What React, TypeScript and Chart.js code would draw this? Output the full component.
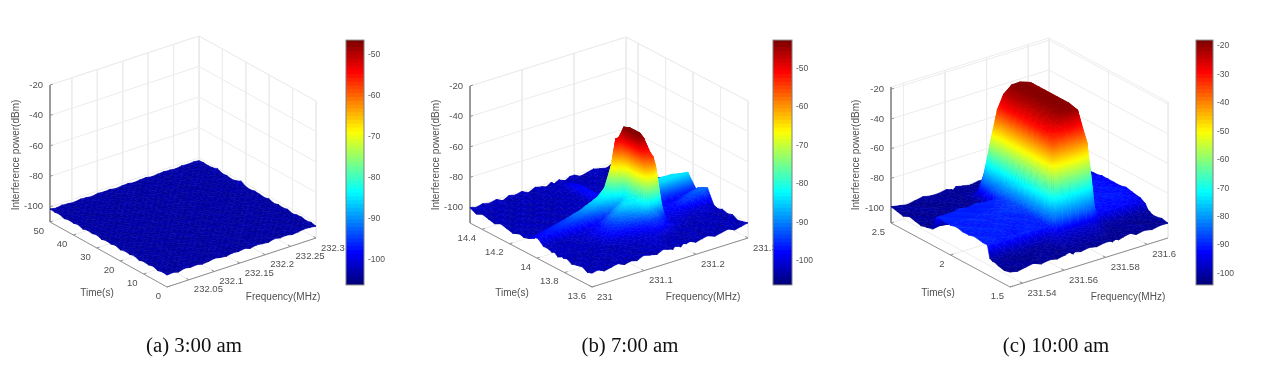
import React, { useEffect, useRef } from "react";
import { Chart, registerables } from "chart.js";

Chart.register(...registerables);

// ---------- tick labels ----------
const powerTicks = [-20, -40, -60, -80, -100];
const freqTicksA = [232.05, 232.1, 232.15, 232.2, 232.25, 232.3];
const timeTicksA = [0, 10, 20, 30, 40, 50];
const barTicksA = [-50, -60, -70, -80, -90, -100];
const freqTicksB = [231, 231.1, 231.2, 231.3];
const timeTicksB = [13.6, 13.8, 14, 14.2, 14.4];
const barTicksB = [-50, -60, -70, -80, -90, -100];
const freqTicksC = [231.54, 231.56, 231.58, 231.6];
const timeTicksC = [1.5, 2, 2.5];
const barTicksC = [-20, -30, -40, -50, -60, -70, -80, -90, -100];

// ---------- panel (a) 3:00 am ----------
const freqsA = [232.007,232.019,232.03,232.042,232.054,232.066,232.077,232.089,232.101,232.113,232.124,232.136,232.148,232.16,232.171,232.183,232.195,232.207,232.218,232.23,232.242,232.254,232.265,232.277,232.289,232.3];
const timesA = [0,2,4,6,8,10,12,14,16,18,20,22,24,26,28,30,32,34,36,38,40,42,44,46,48,50];
const powerA = [
[-102.2,-101.8,-102.6,-101.5,-102.2,-101.8,-102.6,-102.2,-101.5,-102.2,-102.6,-101.8,-102.2,-101.5,-102.6,-101.8,-102.2,-102.6,-101.5,-102.2,-101.8,-102.6,-102.2,-101.5,-101.8,-102.2],
[-101.8,-102.6,-102.2,-101.8,-101.5,-102.6,-102.2,-101.8,-102.6,-101.5,-102.2,-101.8,-102.6,-102.2,-101.8,-101.5,-102.6,-102.2,-101.8,-102.6,-102.2,-101.5,-101.8,-102.6,-102.2,-101.5],
[-102.6,-101.5,-102.2,-102.6,-101.8,-102.2,-101.5,-102.6,-101.8,-102.2,-101.8,-102.6,-101.5,-102.2,-102.6,-102.2,-101.8,-101.5,-102.6,-101.8,-102.2,-102.6,-101.5,-102.2,-101.8,-102.2],
[-101.5,-102.2,-101.8,-102.6,-102.2,-101.5,-102.2,-101.8,-102.6,-102.2,-101.5,-102.2,-101.8,-102.6,-101.5,-102.2,-102.6,-101.8,-102.2,-101.5,-102.6,-101.8,-102.2,-101.8,-102.6,-101.5],
[-102.2,-102.6,-101.5,-102.2,-101.8,-102.6,-101.8,-102.2,-101.5,-102.6,-102.2,-101.8,-102.6,-101.5,-102.2,-101.8,-101.5,-102.6,-102.2,-101.8,-101.5,-102.2,-102.6,-101.5,-102.2,-101.8],
[-101.8,-101.5,-102.6,-101.8,-102.2,-101.5,-102.6,-101.5,-102.2,-101.8,-102.6,-101.5,-102.2,-101.8,-102.6,-102.2,-101.8,-102.2,-101.5,-102.6,-102.2,-101.8,-101.5,-102.6,-101.8,-102.6],
[-102.6,-102.2,-101.8,-101.5,-102.6,-102.2,-101.8,-102.6,-101.8,-101.5,-102.2,-102.6,-101.8,-102.2,-101.5,-102.6,-102.2,-101.5,-101.8,-102.2,-102.6,-101.5,-102.2,-101.8,-102.6,-101.5],
[-101.5,-101.8,-102.2,-102.6,-101.5,-101.8,-102.6,-102.2,-101.5,-102.6,-101.8,-102.2,-101.5,-102.6,-102.2,-101.5,-101.8,-102.6,-102.2,-101.5,-101.8,-102.6,-101.8,-102.2,-101.5,-102.2],
[-102.2,-102.6,-101.5,-101.8,-102.6,-102.2,-101.5,-101.8,-102.6,-102.2,-101.5,-102.6,-102.2,-101.8,-101.5,-102.6,-102.2,-101.8,-102.6,-102.2,-101.5,-101.8,-102.6,-101.5,-102.2,-101.8],
[-101.8,-101.5,-102.6,-102.2,-101.8,-101.5,-102.2,-102.6,-101.8,-101.5,-102.6,-101.8,-102.2,-101.5,-102.6,-101.8,-101.5,-102.2,-101.8,-102.6,-102.2,-101.5,-102.2,-102.6,-101.8,-102.6],
[-102.6,-101.8,-102.2,-101.5,-102.2,-102.6,-101.8,-101.5,-102.2,-102.6,-101.8,-101.5,-102.6,-102.2,-101.8,-102.2,-102.6,-101.5,-102.2,-101.8,-102.6,-102.2,-101.5,-101.8,-102.6,-101.5],
[-101.5,-102.2,-101.8,-102.6,-101.5,-101.8,-102.2,-102.6,-101.5,-101.8,-102.2,-102.6,-101.5,-101.8,-102.2,-102.6,-101.5,-102.2,-102.6,-101.8,-101.5,-102.6,-101.8,-102.2,-101.5,-102.2],
[-102.2,-101.5,-102.6,-102.2,-101.8,-102.6,-101.5,-102.2,-101.8,-102.6,-101.5,-102.2,-101.8,-102.6,-101.5,-102.2,-101.8,-102.6,-101.5,-102.2,-101.8,-102.2,-102.6,-101.5,-102.2,-101.8],
[-101.8,-102.6,-101.5,-101.8,-102.6,-101.5,-102.2,-101.8,-102.6,-101.5,-102.2,-101.8,-102.6,-102.2,-101.8,-101.5,-102.6,-101.8,-102.2,-101.5,-102.6,-101.5,-101.8,-102.2,-102.6,-101.5],
[-102.6,-102.2,-101.8,-102.6,-101.5,-102.2,-102.6,-101.5,-102.2,-101.8,-102.6,-102.2,-101.5,-101.8,-102.6,-102.2,-101.5,-102.6,-101.8,-102.2,-101.5,-102.6,-102.2,-101.8,-101.5,-102.2],
[-101.5,-101.8,-102.2,-101.5,-102.2,-101.8,-101.5,-102.6,-101.8,-102.2,-101.5,-102.6,-102.2,-101.8,-101.5,-102.6,-102.2,-101.8,-102.6,-101.5,-102.2,-101.8,-102.6,-101.5,-102.2,-101.8],
[-102.2,-102.6,-101.5,-102.6,-101.8,-102.6,-102.2,-101.8,-101.5,-102.6,-102.2,-101.5,-101.8,-102.6,-102.2,-101.8,-101.5,-102.2,-101.5,-102.6,-101.8,-102.2,-101.5,-102.6,-101.8,-100],
[-101.8,-101.5,-102.2,-101.8,-102.6,-101.5,-101.8,-102.2,-102.6,-101.5,-101.8,-102.2,-102.6,-101.5,-101.8,-102.2,-102.6,-101.5,-102.2,-101.8,-102.6,-101.5,-102.2,-101.8,-102.6,-101.5],
[-102.6,-102.2,-101.8,-101.5,-102.2,-101.8,-102.6,-101.5,-102.2,-101.8,-102.6,-101.5,-102.2,-102.6,-101.5,-101.8,-102.2,-102.6,-101.8,-101.5,-102.2,-102.6,-101.8,-102.2,-101.5,-102.2],
[-101.5,-101.8,-102.6,-102.2,-101.5,-102.6,-102.2,-101.8,-101.5,-102.6,-102.2,-101.8,-101.5,-102.2,-102.6,-101.5,-101.8,-102.2,-101.5,-102.6,-101.8,-102.2,-102.6,-101.5,-101.8,-101.5],
[-102.2,-101.5,-102.2,-101.8,-102.6,-101.8,-101.5,-102.6,-102.2,-101.5,-101.8,-102.6,-102.2,-101.8,-101.5,-102.6,-102.2,-101.8,-102.6,-102.2,-101.5,-101.8,-101.5,-102.6,-102.2,-101.8],
[-101.8,-102.6,-101.5,-102.6,-102.2,-101.5,-102.2,-101.8,-102.6,-101.8,-102.2,-101.5,-102.6,-101.5,-102.2,-101.8,-102.6,-101.5,-102.2,-101.8,-102.6,-101.5,-102.2,-101.8,-101.5,-100.5],
[-102.6,-101.8,-102.2,-101.5,-101.8,-102.6,-101.5,-102.2,-101.8,-102.6,-101.5,-102.2,-101.8,-102.6,-101.8,-102.2,-101.5,-102.6,-101.8,-101.5,-102.2,-102.6,-101.8,-102.2,-102.6,-101.5],
[-101.5,-102.2,-102.6,-101.8,-102.2,-101.5,-102.6,-101.8,-101.5,-102.2,-102.6,-101.8,-101.5,-102.2,-102.6,-101.5,-102.2,-101.8,-102.6,-102.2,-101.5,-101.8,-102.6,-101.5,-102.2,-101.8],
[-101.8,-101.5,-101.8,-102.6,-101.5,-102.2,-101.8,-101.5,-102.6,-101.8,-102.2,-101.5,-102.6,-101.8,-102.2,-102.6,-101.8,-101.5,-102.2,-102.6,-101.8,-101.5,-102.2,-102.6,-101.8,-101.5],
[-101.5,-102.2,-101.5,-101.8,-102.2,-101.5,-101.8,-102.2,-101.5,-101.8,-101.5,-102.2,-101.8,-101.5,-102.2,-101.8,-101.5,-102.2,-101.8,-101.5,-101.8,-102.2,-101.5,-101.8,-101.5,-101.8],
];

// ---------- panel (b) 7:00 am ----------
const freqsB = [231,231.012,231.024,231.0375,231.05,231.063,231.075,231.087,231.099,231.1125,231.125,231.1374,231.147,231.156,231.1605,231.165,231.171,231.177,231.1815,231.192,231.2,231.2124,231.225,231.237,231.249,231.2625,231.275,231.2874,231.3];
const timesB = [13.6,13.636,13.671,13.711,13.748,13.786,13.809,13.826,13.849,13.875,13.893,13.92,13.955,13.991,14.017,14.035,14.062,14.097,14.133,14.177,14.222,14.266,14.31,14.355,14.399,14.444,14.488];
const powerB = [
[-101,-100,-102,-101,-100,-102,-101,-102,-100,-101,-102,-100,-101,-102,-100,-101,-102,-100,-101,-100,-102,-101,-100,-102,-101,-100,-102,-101,-100],
[-102,-101,-100,-102,-101,-100,-102,-100,-101,-102,-100,-101,-100,-101,-102,-100,-100,-102,-101,-102,-100,-101,-102,-100,-102,-101,-100,-102,-101],
[-100,-102,-101,-100,-102,-101,-100,-101,-102,-100,-101,-99,-100,-100,-101,-102,-101,-100,-102,-101,-101,-100,-102,-101,-100,-102,-101,-100,-102],
[-101,-100,-102,-101,-101,-100,-102,-100,-101,-101,-100,-100,-99,-99,-100,-100,-101,-102,-100,-101,-102,-100,-101,-100,-102,-100,-101,-102,-100],
[-102,-101,-100,-102,-100,-101,-101,-102,-100,-100,-100,-99,-99,-98,-98,-97,-97,-97,-98,-99,-100,-101,-101,-102,-100,-101,-100,-102,-101],
[-100,-102,-101,-101,-102,-100,-101,-100,-100,-99,-98,-97,-96,-95,-94,-93,-93,-93,-94,-96,-98,-99,-100,-101,-101,-100,-102,-101,-100],
[-101,-100,-102,-100,-101,-102,-100,-99,-98,-97,-96,-95,-93,-91,-90,-88,-87,-87,-89,-93,-99,-100,-99,-100,-101,-100,-99,-100,-101],
[-100,-102,-101,-100,-101,-100,-101,-98,-96,-95,-94,-92,-90,-87,-82,-72,-60,-54,-60,-86,-98,-99,-99,-99,-100,-100,-99,-100,-101],
[-102,-100,-101,-102,-100,-101,-100,-98,-95,-93,-91,-90,-87,-84,-76,-56,-52,-52,-58,-84,-97,-98,-98,-98,-99,-99,-99,-99,-100],
[-100,-101,-100,-100,-102,-100,-99,-97,-95,-92,-89,-86,-84,-82,-72,-50,-48,-48,-56,-84,-96,-97,-97,-96,-94,-93,-93,-92,-95],
[-101,-100,-102,-100,-101,-100,-99,-97,-95,-91,-88,-85,-83,-80,-68,-46,-44,-45,-54,-84,-95,-96,-96,-96,-94,-92,-91,-90,-91],
[-100,-101,-100,-102,-100,-100,-99,-98,-96,-92,-89,-86,-84,-81,-68,-45,-43,-43,-52,-82,-94,-95,-96,-96,-95,-93,-92,-91,-92],
[-100,-100,-101,-100,-100,-99,-99,-98,-97,-95,-92,-89,-86,-82,-68,-45,-43,-43,-52,-80,-90,-92,-95,-97,-97,-97,-97,-97,-99],
[-97,-96,-95,-94,-93,-92,-91,-90,-88,-86,-84,-80,-70,-62,-58,-46,-43,-43,-54,-80,-85,-85,-85,-85,-84,-84,-84,-84,-99],
[-97,-96,-95,-94,-93,-92,-90,-89,-87,-85,-83,-78,-66,-49,-49,-47,-43,-44,-58,-80,-84,-84,-84,-84,-84,-84,-85,-96,-101],
[-98,-97,-96,-95,-94,-93,-92,-91,-89,-87,-85,-82,-78,-72,-70,-70,-68,-68,-72,-82,-84,-84,-84,-85,-92,-97,-99,-100,-101],
[-100,-101,-100,-100,-101,-100,-100,-99,-100,-99,-99,-97,-94,-88,-86,-86,-86,-86,-88,-88,-86,-90,-93,-97,-99,-100,-101,-100,-102],
[-101,-100,-102,-100,-101,-100,-100,-101,-100,-100,-100,-99,-98,-95,-94,-93,-93,-94,-96,-97,-95,-97,-99,-100,-101,-100,-102,-101,-100],
[-100,-102,-101,-101,-100,-102,-101,-100,-102,-101,-100,-101,-100,-98,-97,-96,-96,-98,-100,-101,-100,-102,-101,-100,-102,-101,-100,-102,-101],
[-102,-100,-101,-100,-102,-101,-100,-102,-101,-100,-101,-100,-101,-100,-98,-96,-96,-98,-101,-100,-102,-100,-101,-102,-100,-101,-102,-100,-101],
[-101,-102,-100,-102,-101,-100,-102,-101,-100,-102,-100,-101,-100,-102,-98,-96,-96,-98,-100,-102,-101,-100,-102,-100,-101,-102,-100,-102,-100],
[-100,-101,-102,-100,-101,-102,-100,-101,-102,-100,-102,-100,-102,-100,-98,-96,-96,-98,-101,-100,-102,-101,-100,-102,-100,-101,-101,-100,-102],
[-102,-100,-101,-102,-100,-101,-102,-100,-101,-102,-100,-101,-100,-101,-98,-96,-96,-98,-100,-102,-100,-102,-101,-100,-102,-100,-102,-101,-100],
[-101,-102,-100,-101,-102,-100,-101,-102,-100,-101,-102,-100,-102,-100,-99,-97,-97,-99,-102,-101,-100,-101,-102,-101,-100,-102,-100,-102,-101],
[-100,-101,-102,-100,-101,-102,-100,-100,-102,-101,-100,-102,-100,-101,-100,-98,-98,-100,-101,-100,-102,-100,-101,-102,-101,-100,-101,-100,-102],
[-102,-100,-100,-102,-100,-101,-102,-101,-100,-102,-101,-100,-101,-100,-102,-100,-100,-102,-100,-102,-101,-102,-100,-100,-102,-101,-102,-100,-101],
[-100,-101,-100,-101,-100,-102,-100,-101,-100,-102,-100,-101,-102,-100,-102,-101,-100,-101,-102,-100,-100,-102,-101,-100,-101,-102,-100,-101,-100],
];

// ---------- panel (c) 10:00 am ----------
const freqsC = [231.534,231.5378,231.5416,231.5454,231.5492,231.553,231.5568,231.5606,231.5629,231.5636,231.5644,231.5652,231.5682,231.572,231.5758,231.5796,231.5819,231.5834,231.5849,231.5864,231.5887,231.5918,231.5948,231.5986,231.6024,231.6062,231.61];
const timesC = [1.5,1.55,1.6,1.63,1.65,1.67,1.69,1.73,1.8,1.85,1.9,1.95,2,2.05,2.1,2.12,2.15,2.2,2.25,2.3,2.35,2.4,2.45,2.5];
const powerC = [
[-100,-101,-100,-99,-101,-100,-101,-100,-99,-100,-101,-100,-101,-100,-101,-100,-100,-101,-100,-101,-100,-99,-101,-100,-101,-100,-100],
[-101,-100,-99,-101,-100,-99,-100,-101,-100,-100,-100,-100,-99,-100,-99,-100,-100,-100,-101,-100,-101,-100,-100,-99,-100,-101,-99],
[-100,-99,-101,-100,-101,-100,-99,-100,-98,-98,-98,-98,-98,-98,-98,-98,-98,-98,-99,-100,-100,-101,-99,-100,-101,-100,-100],
[-99,-100,-100,-101,-99,-100,-100,-99,-97,-97,-96,-96,-96,-96,-96,-96,-96,-96,-97,-99,-100,-99,-100,-101,-100,-99,-100],
[-99,-99,-100,-99,-99,-100,-99,-99,-96,-96,-94,-94,-94,-94,-94,-94,-94,-95,-96,-98,-99,-100,-99,-99,-100,-100,-99],
[-98,-98,-98,-98,-97,-97,-97,-97,-94,-92,-88,-80,-62,-60,-60,-64,-70,-82,-92,-96,-98,-99,-98,-99,-98,-99,-98],
[-90,-90,-91,-90,-90,-89,-90,-90,-90,-88,-80,-35,-31,-29,-28,-32,-42,-60,-84,-92,-92,-91,-92,-91,-92,-93,-95],
[-90,-89,-90,-90,-91,-90,-89,-90,-90,-84,-60,-30,-25,-20,-19,-20.5,-34,-52,-75,-90,-91,-91,-91,-91,-91,-91,-93],
[-89,-90,-90,-89,-90,-90,-90,-89,-89,-82,-58,-29,-23,-19,-18.3,-19,-33,-52,-76,-90,-90,-90,-91,-90,-90,-91,-92],
[-90,-90,-89,-90,-89,-90,-89,-90,-88,-82,-57,-29,-23,-19,-18.3,-19,-33,-52,-76,-90,-90,-91,-90,-90,-91,-90,-91],
[-90,-89,-90,-90,-90,-89,-90,-88,-88,-82,-57,-29,-23,-18.8,-18.3,-19,-33,-52,-76,-90,-91,-90,-90,-91,-90,-91,-92],
[-89,-90,-90,-89,-90,-89,-88,-88,-87,-82,-57,-29,-23,-18.8,-18.3,-19,-33,-52,-77,-91,-91,-91,-90,-90,-91,-91,-92],
[-90,-90,-89,-90,-89,-90,-89,-88,-87,-82,-57,-29,-22,-18.8,-18.3,-19,-33,-52,-77,-91,-91,-91,-91,-91,-90,-91,-92],
[-90,-89,-90,-89,-90,-89,-90,-89,-88,-82,-57,-29,-22,-18.8,-18.3,-19,-33,-52,-78,-91,-91,-91,-91,-91,-91,-91,-92],
[-89,-90,-89,-90,-90,-90,-89,-89,-88,-82,-58,-29,-22,-18.5,-18.3,-19,-33,-53,-78,-92,-91,-91,-91,-91,-92,-91,-93],
[-90,-90,-90,-89,-90,-89,-90,-90,-89,-82,-60,-30,-22,-18.5,-18.3,-19,-33,-53,-78,-92,-92,-92,-92,-92,-92,-91,-93],
[-99,-98,-99,-98,-99,-99,-98,-98,-96,-80,-37,-32,-23,-18.5,-18.3,-20,-34,-54,-78,-93,-93,-93,-93,-92,-93,-92,-93],
[-100,-101,-100,-99,-100,-101,-100,-100,-98,-88,-58,-55,-50,-48,-48,-50,-58,-68,-86,-95,-96,-95,-96,-95,-95,-94,-95],
[-101,-100,-99,-101,-100,-100,-101,-99,-99,-95,-80,-77,-76,-76,-76,-76,-76,-85,-94,-97,-96,-97,-96,-96,-97,-96,-96],
[-100,-99,-101,-100,-101,-99,-100,-100,-100,-98,-94,-92,-92,-92,-92,-92,-92,-94,-97,-98,-98,-97,-98,-97,-97,-98,-97],
[-99,-101,-100,-99,-100,-101,-100,-101,-99,-100,-98,-98,-98,-97,-98,-98,-98,-98,-99,-100,-99,-98,-99,-99,-98,-99,-98],
[-101,-100,-99,-100,-101,-100,-99,-100,-100,-100,-99,-100,-100,-99,-100,-99,-100,-100,-99,-100,-101,-99,-100,-100,-100,-99,-100],
[-100,-99,-100,-101,-100,-99,-101,-100,-101,-100,-100,-101,-99,-100,-100,-101,-100,-99,-100,-101,-100,-100,-99,-101,-100,-100,-99],
[-99,-100,-101,-100,-99,-100,-100,-99,-100,-101,-100,-99,-100,-101,-100,-100,-99,-100,-101,-100,-99,-101,-100,-99,-100,-101,-100],
];

// ---------- styling / layout of each panel ----------
const GRID = "#ececec";
const AXIS = "#8d8d8d";
const TEXT = "#505050";
const FONT = "'Liberation Sans', Arial, sans-serif";

const panels = [
  { caption: "(a) 3:00 am", capX: 194, left: 0, width: 423,
    freqs: freqsA, times: timesA, power: powerA, fTicks: freqTicksA, tTicks: timeTicksA, bTicks: barTicksA,
    fr: [232.007, 232.3], tr: [0, 50], zr: [-110, -20], cr: [-106.1, -46.4],
    front: [167, 287], fv: [149, -49], tv: [-117, -65], zh: 137,
    bar: [346, 39, 18, 247], labels: { i: [16, 155], t: [97, 293], f: [283, 297] } },
  { caption: "(b) 7:00 am", capX: 630, left: 423, width: 422,
    freqs: freqsB, times: timesB, power: powerB, fTicks: freqTicksB, tTicks: timeTicksB, bTicks: barTicksB,
    fr: [231, 231.3], tr: [13.6, 14.488], zr: [-110, -20], cr: [-106.3, -42.7],
    front: [592, 287], fv: [156, -49], tv: [-122, -64], zh: 137,
    bar: [773, 39, 19, 247], labels: { i: [436, 155], t: [512, 293], f: [703, 297] } },
  { caption: "(c) 10:00 am", capX: 1056, left: 845, width: 424,
    freqs: freqsC, times: timesC, power: powerC, fTicks: freqTicksC, tTicks: timeTicksC, bTicks: barTicksC,
    fr: [231.534, 231.61], tr: [1.5, 2.5], zr: [-110, -18.5], cr: [-104, -17.9],
    front: [1010, 287], fv: [158, -49], tv: [-119, -64], zh: 136,
    bar: [1196, 39, 17, 247], labels: { i: [856, 155], t: [938, 293], f: [1128, 297] } },
];

const clamp01 = (v: number) => Math.max(0, Math.min(1, v));
function jet(v: number) {
  const u = clamp01(v);
  const r = clamp01(1.5 - Math.abs(4 * u - 3));
  const g = clamp01(1.5 - Math.abs(4 * u - 2));
  const b = clamp01(1.5 - Math.abs(4 * u - 1));
  return `rgb(${Math.round(r * 255)},${Math.round(g * 255)},${Math.round(b * 255)})`;
}

function makeProject(p: any) {
  return (f: number, t: number, z: number) => {
    const a = (f - p.fr[0]) / (p.fr[1] - p.fr[0]);
    const b = (t - p.tr[0]) / (p.tr[1] - p.tr[0]);
    const c = (z - p.zr[0]) / (p.zr[1] - p.zr[0]);
    return {
      x: p.front[0] + a * p.fv[0] + b * p.tv[0],
      y: p.front[1] + a * p.fv[1] + b * p.tv[1] - c * p.zh,
    };
  };
}

// The noise floor prints a little darker in the reference than its colour bar level.
const shade = (z: number) => (z < -85 ? z - 2 * Math.min(1, (-85 - z) / 8) : z);

// Paint for one triangle of the surface: colour is a function of power only,
// and power is linear over a triangle, so a linear gradient is exact.
// The plane scales run 1:1 with the canvas, offset by the panel's left edge.
function triPaint(chart: any, p: any, tri: any) {
  if (tri.paint) return tri.paint;
  const col = (z: number) => jet((shade(z) - p.cr[0]) / (p.cr[1] - p.cr[0]));
  const pts = tri.pts.map((q: any) => ({ x: q.x - p.left, y: q.y, z: q.z }));
  const zs = pts.map((q: any) => q.z);
  const zMin = Math.min(...zs);
  const zMax = Math.max(...zs);
  const mean = (zs[0] + zs[1] + zs[2]) / 3;
  const d1x = pts[1].x - pts[0].x, d1y = pts[1].y - pts[0].y, dz1 = pts[1].z - pts[0].z;
  const d2x = pts[2].x - pts[0].x, d2y = pts[2].y - pts[0].y, dz2 = pts[2].z - pts[0].z;
  const det = d1x * d2y - d1y * d2x;
  if (Math.abs(det) < 1e-3 || zMax - zMin < 0.5) {
    tri.paint = col(mean);
    return tri.paint;
  }
  const A = (dz1 * d2y - dz2 * d1y) / det;
  const B = (d1x * dz2 - d2x * dz1) / det;
  const g2 = A * A + B * B;
  if (g2 < 1e-9) {
    tri.paint = col(mean);
    return tri.paint;
  }
  const lo = pts[zs.indexOf(zMin)];
  const span = zMax - zMin;
  const grad = chart.ctx.createLinearGradient(lo.x, lo.y, lo.x + (A / g2) * span, lo.y + (B / g2) * span);
  const n = Math.min(24, Math.ceil(span / 2) + 1);
  for (let k = 0; k <= n; k++) grad.addColorStop(k / n, col(zMin + (k / n) * span));
  tri.paint = grad;
  return grad;
}

function buildDatasets(p: any) {
  const proj = makeProject(p);
  const out: any[] = [];
  const node = (i: number, j: number) => {
    const z = p.power[j][i];
    return { ...proj(p.freqs[i], p.times[j], z), z };
  };
  const addTri = (a: any, b: any, c: any) => {
    const tri = { pts: [a, b, c], paint: null };
    const paint = (ctx: any) => triPaint(ctx.chart, p, tri);
    out.push({
      data: [a, b, c, a].map((q) => ({ x: q.x, y: q.y })),
      fill: "shape",
      tension: 0,
      pointRadius: 0,
      borderWidth: 0.6,
      backgroundColor: paint,
      borderColor: paint,
      order: 0,
    });
  };
  // Nearest cells first: datasets are painted from last to first.
  for (let j = 0; j < p.times.length - 1; j++) {
    for (let i = 0; i < p.freqs.length - 1; i++) {
      const n00 = node(i, j), n10 = node(i + 1, j), n01 = node(i, j + 1), n11 = node(i + 1, j + 1);
      addTri(n00, n10, n01);
      addTri(n10, n11, n01);
    }
  }
  const seg = (pts: any[], color: string, width = 1, order = 2) =>
    out.push({ data: pts, fill: false, tension: 0, pointRadius: 0, borderWidth: width, borderColor: color, order });
  const [f0, f1] = p.fr;
  const [t0, t1] = p.tr;
  const [z0, z1] = p.zr;
  // walls and floor grid
  for (const z of powerTicks) seg([proj(f0, t1, z), proj(f1, t1, z), proj(f1, t0, z)], GRID);
  for (const f of p.fTicks) {
    seg([proj(f, t1, z1), proj(f, t1, z0), proj(f, t0, z0)], GRID);
  }
  for (const t of p.tTicks) {
    seg([proj(f1, t, z1), proj(f1, t, z0), proj(f0, t, z0)], GRID);
  }
  seg([proj(f0, t1, z1), proj(f1, t1, z1), proj(f1, t0, z1)], GRID);
  seg([proj(f1, t1, z0), proj(f1, t1, z1)], GRID);
  seg([proj(f1, t0, z0), proj(f1, t0, z1)], GRID);
  // axes, drawn above the grid, below the surface
  seg([proj(f0, t1, z1), proj(f0, t1, z0), proj(f0, t0, z0), proj(f1, t0, z0)], AXIS, 1, 1);
  const df = (f1 - f0) * 0.018;
  const dt = (t1 - t0) * 0.022;
  for (const z of powerTicks) seg([proj(f0, t1, z), proj(f0 + df, t1, z)], AXIS, 1, 1);
  for (const f of p.fTicks) seg([proj(f, t0, z0), proj(f, t0 + dt, z0)], AXIS, 1, 1);
  for (const t of p.tTicks) seg([proj(f0, t, z0), proj(f0 + df, t, z0)], AXIS, 1, 1);
  return out;
}

function textPlugin(p: any) {
  const proj = makeProject(p);
  return {
    id: "panelText",
    afterDraw(chart: any) {
      const { ctx, scales } = chart;
      const px = (q: any) => ({ x: scales.x.getPixelForValue(q.x), y: scales.y.getPixelForValue(q.y) });
      const plane = (x: number, y: number) => px({ x, y });
      ctx.save();
      ctx.fillStyle = TEXT;
      ctx.font = `9.5px ${FONT}`;
      ctx.textBaseline = "middle";
      ctx.textAlign = "right";
      for (const z of powerTicks) {
        const q = px(proj(p.fr[0], p.tr[1], z));
        ctx.fillText(String(z), q.x - 7, q.y);
      }
      for (const t of p.tTicks) {
        const q = px(proj(p.fr[0], t, p.zr[0]));
        ctx.fillText(String(t), q.x - 6, q.y + 9);
      }
      ctx.textAlign = "left";
      for (const f of p.fTicks) {
        const q = px(proj(f, p.tr[0], p.zr[0]));
        ctx.fillText(String(f), q.x + 5, q.y + 10);
      }
      ctx.font = `10px ${FONT}`;
      ctx.textAlign = "center";
      const tt = plane(p.labels.t[0], p.labels.t[1]);
      ctx.fillText("Time(s)", tt.x, tt.y);
      const ff = plane(p.labels.f[0], p.labels.f[1]);
      ctx.fillText("Frequency(MHz)", ff.x, ff.y);
      const ii = plane(p.labels.i[0], p.labels.i[1]);
      ctx.translate(ii.x, ii.y);
      ctx.rotate(-Math.PI / 2);
      ctx.fillText("Interference power(dBm)", 0, 0);
      ctx.restore();
    },
  };
}

function Panel({ p }: { p: any }) {
  const surf = useRef<HTMLCanvasElement>(null);
  const bar = useRef<HTMLCanvasElement>(null);
  const [bx, by, bw, bh] = p.bar;
  const AXW = 34;
  const PAD = 8;
  useEffect(() => {
    const chart = new Chart(surf.current as any, {
      type: "line",
      data: { datasets: buildDatasets(p) },
      options: {
        responsive: false,
        animation: false,
        parsing: false,
        events: [],
        layout: { padding: 0 },
        plugins: { legend: { display: false }, tooltip: { enabled: false }, title: { display: false } },
        scales: {
          x: { type: "linear", display: false, min: p.left, max: p.left + p.width },
          y: { type: "linear", display: false, min: 0, max: 376, reverse: true },
        },
      },
      plugins: [textPlugin(p)],
    } as any);
    const levels = 64;
    const step = (p.cr[1] - p.cr[0]) / levels;
    const bands: any[] = [];
    for (let k = 0; k < levels; k++) {
      bands.push({
        data: [[p.cr[0] + k * step, p.cr[0] + (k + 1) * step + step * 0.05]],
        backgroundColor: jet(k / (levels - 1)),
        borderWidth: 0,
        grouped: false,
        barPercentage: 1,
        categoryPercentage: 1,
      });
    }
    const cb = new Chart(bar.current as any, {
      type: "bar",
      data: { labels: ["power"], datasets: bands },
      options: {
        responsive: false,
        animation: false,
        events: [],
        layout: { padding: { top: PAD, bottom: PAD, left: 1, right: 0 } },
        plugins: { legend: { display: false }, tooltip: { enabled: false } },
        scales: {
          x: { display: false },
          y: {
            position: "right",
            min: p.cr[0],
            max: p.cr[1],
            grid: { display: false, drawTicks: false },
            border: { display: false },
            afterBuildTicks: (s: any) => {
              s.ticks = p.bTicks.map((v: number) => ({ value: v }));
            },
            afterFit: (s: any) => {
              s.width = AXW;
            },
            ticks: { color: TEXT, padding: 4, font: { size: 8.5, family: FONT }, callback: (v: any) => String(v) },
          },
        },
      },
      plugins: [
        {
          id: "barFrame",
          afterDraw(c: any) {
            const a = c.chartArea;
            c.ctx.save();
            c.ctx.strokeStyle = "#7f7f7f";
            c.ctx.lineWidth = 1;
            c.ctx.strokeRect(a.left, a.top, a.right - a.left, a.bottom - a.top);
            c.ctx.restore();
          },
        },
      ],
    } as any);
    return () => {
      chart.destroy();
      cb.destroy();
    };
  }, []);
  return (
    <>
      <canvas
        ref={surf}
        width={p.width}
        height={376}
        style={{ position: "absolute", left: p.left, top: 0, width: p.width, height: 376, zIndex: 1 }}
      />
      <canvas
        ref={bar}
        width={bw + AXW + 1}
        height={bh + 2 * PAD}
        style={{ position: "absolute", left: bx - 1, top: by - PAD, width: bw + AXW + 1, height: bh + 2 * PAD, zIndex: 2 }}
      />
      <div
        style={{
          position: "absolute",
          left: p.capX - 100,
          width: 200,
          top: 333,
          textAlign: "center",
          font: "20.8px 'Liberation Serif', 'Times New Roman', serif",
          color: "#111",
          zIndex: 3,
        }}
      >
        {p.caption}
      </div>
    </>
  );
}

export default function App() {
  return (
    <div
      style={{
        position: "absolute",
        left: 0,
        top: 0,
        width: 1269,
        height: 376,
        overflow: "hidden",
        background: "#fff",
        filter: "blur(0.6px)",
      }}
    >
      {panels.map((p) => (
        <Panel key={p.caption} p={p} />
      ))}
    </div>
  );
}
